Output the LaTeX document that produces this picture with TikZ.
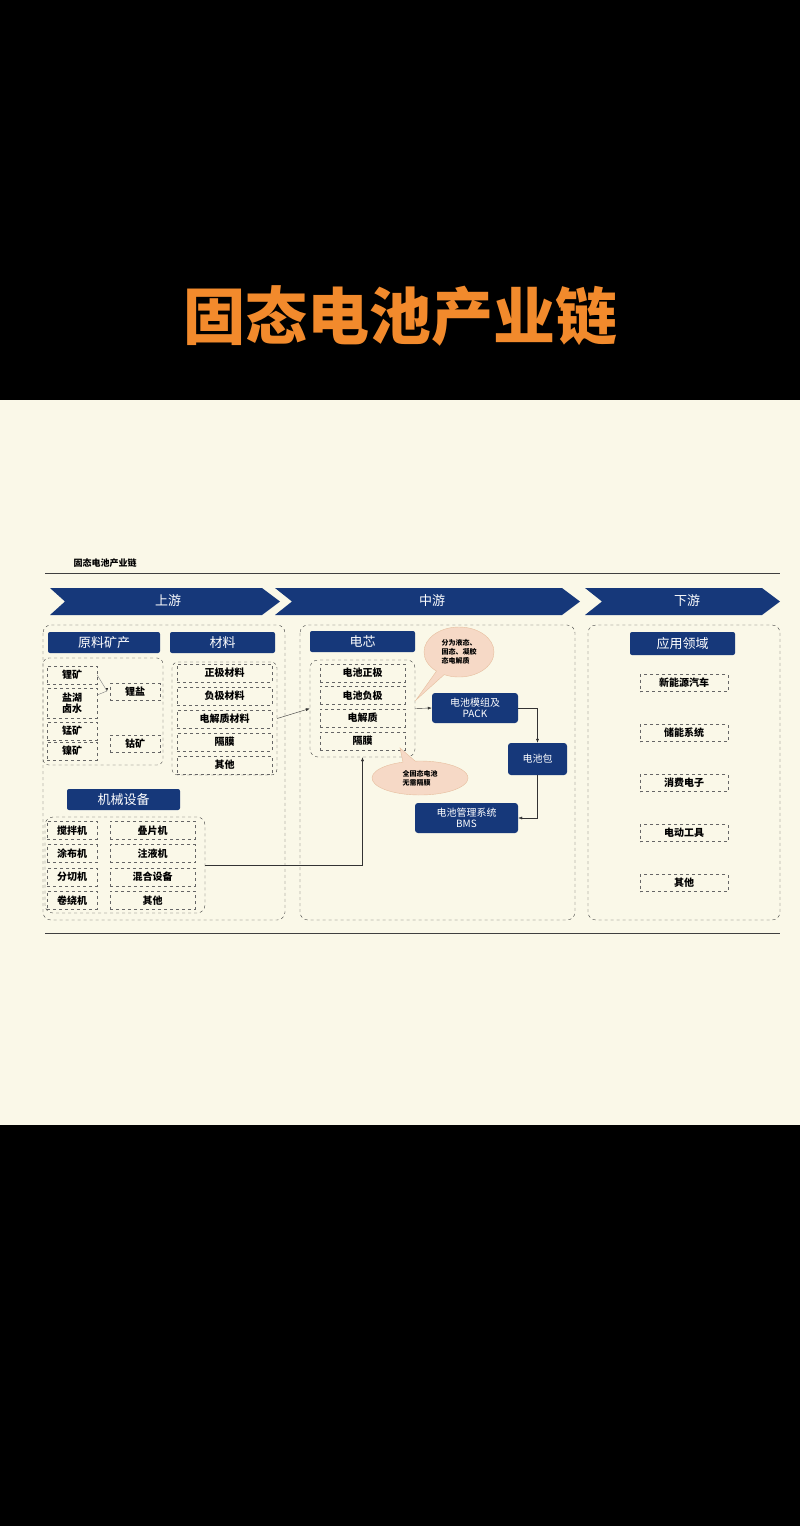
\documentclass[tikz,border=0pt]{standalone}
\usepackage{fontspec}
\setmainfont{Noto Sans CJK SC}
\usepackage{tikz}
\usetikzlibrary{arrows.meta,shapes.callouts,positioning}

\definecolor{navy}{HTML}{16387A}
\definecolor{cream}{HTML}{FAF8E8}
\definecolor{peach}{HTML}{F6D9C6}
\definecolor{titleorange}{HTML}{F28A2C}

\tikzset{
  chev/.style={fill=navy,draw=none},
  head/.style={fill=navy,text=white,rounded corners=2pt,font=\fontsize{13}{13}\selectfont,inner sep=0pt},
  item/.style={draw=gray!80!black,dashed,text=black,font=\fontsize{10}{11}\selectfont\bfseries,inner sep=0pt,align=center},
  grp/.style={draw=gray!50!black,dashed,rounded corners=8pt},
  blk/.style={fill=navy,text=white,rounded corners=3pt,font=\fontsize{10}{11}\selectfont,inner sep=0pt,align=center},
  call/.style={fill=peach,draw=peach!70!brown,font=\fontsize{7}{9}\selectfont\bfseries,align=left},
  link/.style={draw=gray!40!black,-{Latex[length=4pt,width=3pt]}},
}

\begin{document}
\begin{tikzpicture}[x=1pt,y=-1pt]

\useasboundingbox (0,0) rectangle (800,1526);
\fill[black] (0,0) rectangle (800,1526);
\fill[cream] (0,400) rectangle (800,1125);

% title
\node[text=titleorange,font=\fontsize{62}{62}\selectfont\bfseries] (title) at (400,316) {固态电池产业链};

\node[anchor=west,font=\fontsize{9}{9}\selectfont\bfseries] (cap) at (70,563) {固态电池产业链};
\draw[gray!50!black] (45,573) -- (780,573);
\draw[gray!50!black] (45,933) -- (780,933);

% chevrons
\fill[chev] (50,588) -- (262,588) -- (280,601.5) -- (262,615) -- (50,615) -- (65,601.5) -- cycle;
\fill[chev] (275,588) -- (562,588) -- (580,601.5) -- (562,615) -- (275,615) -- (292,601.5) -- cycle;
\fill[chev] (585,588) -- (762,588) -- (780,601.5) -- (762,615) -- (585,615) -- (602,601.5) -- cycle;
\node[text=white,font=\fontsize{13}{13}\selectfont] (up) at (168,601) {上游};
\node[text=white,font=\fontsize{13}{13}\selectfont] (mid) at (432,601) {中游};
\node[text=white,font=\fontsize{13}{13}\selectfont] (down) at (687,601) {下游};

% groups
\draw[grp] (43,625) rectangle (285,920);
\draw[grp] (300,625) rectangle (575,920);
\draw[grp] (588,625) rectangle (780,920);
\draw[grp,rounded corners=6pt] (43,658) rectangle (163,765);
\node[grp,rounded corners=6pt,minimum width=105,minimum height=113] (mat) at (224.5,718.5) {};
\node[grp,rounded corners=8pt,minimum width=160,minimum height=96] (mach) at (125,865) {};
\node[grp,rounded corners=8pt,minimum width=105,minimum height=97] (cell) at (362.5,708.5) {};

% headers
\node[head,minimum width=112,minimum height=21] (raw) at (104,642.5) {原料矿产};
\node[head,minimum width=105,minimum height=21] (math) at (222.5,642.5) {材料};
\node[head,minimum width=113,minimum height=21] (machh) at (123.5,799.5) {机械设备};
\node[head,minimum width=105,minimum height=21] (cellh) at (362.5,641.5) {电芯};
\node[head,minimum width=105,minimum height=23] (apph) at (682.5,643.5) {应用领域};

% raw minerals
\node[item,minimum width=50,minimum height=18] (li) at (72,675) {锂矿};
\node[item,minimum width=50,minimum height=30] (lake) at (72,703) {盐湖\\卤水};
\node[item,minimum width=50,minimum height=18] (mn) at (72,731) {锰矿};
\node[item,minimum width=50,minimum height=18] (ni) at (72,751) {镍矿};
\node[item,minimum width=50,minimum height=17] (lis) at (135,692) {锂盐};
\node[item,minimum width=50,minimum height=17] (co) at (135,743.5) {钴矿};
\coordinate (lij) at (107,691);
\draw[gray] (li.east) -- (lij);
\draw[gray] (lake.east) ++(0,-8) -- (lij);
\draw[-{Latex[length=3pt]},gray!30!black] (lij) ++(0,-3) -- ++(0,3);

% materials
\foreach \t [count=\i] in {正极材料,负极材料,电解质材料,隔膜,其他}
  \node[item,minimum width=95,minimum height=18] (m\i) at (224.5,650+23*\i) {\t};

% machines
\foreach \t [count=\i] in {搅拌机,涂布机,分切机,卷绕机}
  \node[item,minimum width=50,minimum height=18] (ml\i) at (72,807+23.3*\i) {\t};
\foreach \t [count=\i] in {叠片机,注液机,混合设备,其他}
  \node[item,minimum width=85,minimum height=18] (mr\i) at (152.5,807+23.3*\i) {\t};

% cell
\foreach \t [count=\i] in {电池正极,电池负极,电解质,隔膜}
  \node[item,minimum width=85,minimum height=18] (c\i) at (362.5,650+22.7*\i) {\t};

% callouts
\node[call,ellipse callout,minimum width=70,minimum height=50,callout absolute pointer={(416,700)}] (note1) at (459,652) {分为液态、\\固态、凝胶\\态电解质};
\node[call,ellipse callout,minimum width=96,minimum height=34,callout absolute pointer={(400,748)}] (note2) at (420,778) {全固态电池\\无需隔膜};

% pack chain
\node[blk,minimum width=86,minimum height=30] (pack) at (475,708) {电池模组及\\PACK};
\node[blk,minimum width=59,minimum height=32] (pk) at (537.5,759) {电池包};
\node[blk,minimum width=103,minimum height=30] (bms) at (466.5,818) {电池管理系统\\BMS};

\draw[link] (mat.east) -- (cell.west);
\draw[link] (mach.east) -| (cell.south);
\draw[link] (cell.east) -- (pack.west);
\draw[link] (pack.east) -| (pk.north);
\draw[link] (pk.south) |- (bms.east);

% applications
\foreach \t [count=\i] in {新能源汽车,储能系统,消费电子,电动工具,其他}
  \node[item,minimum width=88,minimum height=17] (a\i) at (684,633+50*\i) {\t};

\end{tikzpicture}
\end{document}
